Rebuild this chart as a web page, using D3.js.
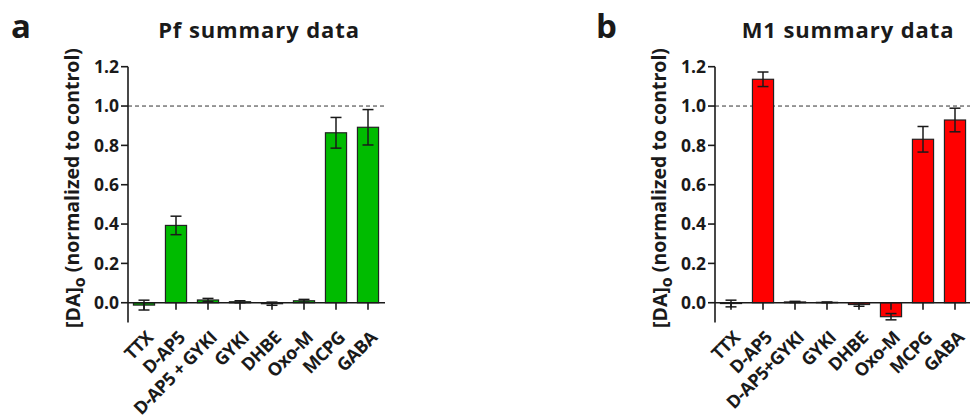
<!DOCTYPE html>
<html><head><meta charset="utf-8">
<script src="https://cdn.jsdelivr.net/npm/d3@7"></script>
<style>
body{margin:0;background:#fff}
text{font-family:"Open Sans",sans-serif;font-weight:700;fill:#1a1a1a}
</style>
</head><body><svg id="c" width="970" height="417"></svg>
<script>
const categoriesA = ["TTX","D-AP5","D-AP5 + GYKI","GYKI","DHBE","Oxo-M","MCPG","GABA"];
const categoriesB = ["TTX","D-AP5","D-AP5+GYKI","GYKI","DHBE","Oxo-M","MCPG","GABA"];
const pfMeans  = [-0.012,0.393,0.014,0.005,-0.005,0.010,0.864,0.892];
const pfErrors = [0.025,0.047,0.008,0.005,0.008,0.007,0.078,0.090];
const m1Means  = [-0.004,1.136,0.004,0.002,-0.009,-0.071,0.831,0.929];
const m1Errors = [0.017,0.037,0.003,0.002,0.009,0.016,0.065,0.060];
const yTicks = [0,0.2,0.4,0.6,0.8,1.0,1.2];
const yTickLabels = ["0.0","0.2","0.4","0.6","0.8","1.0","1.2"];

const panels = [
  {letter:"a", title:"Pf summary data", cats:categoriesA, means:pfMeans, errs:pfErrors, color:"#00bb00", x0:128, letterX:11, titleX:259},
  {letter:"b", title:"M1 summary data", cats:categoriesB, means:m1Means, errs:m1Errors, color:"#ff0000", x0:715, letterX:596, titleX:848}
];

const svg = d3.select("#c");
const y = d3.scaleLinear().domain([-0.1,1.2]).range([322.4,66.7]);
const ink = "#1a1a1a";

panels.forEach(p=>{
  const g = svg.append("g");
  const x = d3.scaleBand().domain(p.cats).range([p.x0, p.x0+256]).paddingInner(0.34).paddingOuter(0.17);
  g.append("text").attr("x",p.letterX).attr("y",38).style("font-size","33px").text(p.letter);
  g.append("text").attr("x",p.titleX).attr("y",38).attr("text-anchor","middle")
    .style("font-size","22px").style("letter-spacing","0.9px").text(p.title);
  const yl = g.append("text").attr("transform",`translate(${p.x0-48},188) rotate(-90)`).attr("text-anchor","middle").style("font-size","19.5px");
  yl.append("tspan").text("[DA]");
  yl.append("tspan").attr("dy","0.3em").style("font-size","16px").text("o");
  yl.append("tspan").attr("dy","-0.3em").text(" (normalized to control)");
  g.append("line").attr("x1",p.x0).attr("x2",p.x0+259).attr("y1",y(1)).attr("y2",y(1))
    .attr("stroke","#333").attr("stroke-width",1).attr("stroke-dasharray","4,3");
  g.selectAll("rect.bar").data(p.means).join("rect").attr("class","bar")
    .attr("x",(d,i)=>x(p.cats[i])).attr("width",x.bandwidth())
    .attr("y",d=>y(Math.max(0,d))).attr("height",d=>Math.abs(y(d)-y(0)))
    .attr("fill",p.color).attr("stroke","#222").attr("stroke-width",1.2);
  const cap = 5.5;
  p.means.forEach((m,i)=>{
    const cx = x(p.cats[i]) + x.bandwidth()/2;
    const lo = y(m - p.errs[i]), hi = y(m + p.errs[i]);
    g.append("line").attr("x1",cx).attr("x2",cx).attr("y1",lo).attr("y2",hi).attr("stroke",ink).attr("stroke-width",1.5);
    [lo,hi].forEach(v=>g.append("line").attr("x1",cx-cap).attr("x2",cx+cap).attr("y1",v).attr("y2",v).attr("stroke",ink).attr("stroke-width",1.5));
  });
  g.append("line").attr("x1",p.x0).attr("x2",p.x0).attr("y1",y(1.2)).attr("y2",y(-0.1)).attr("stroke",ink).attr("stroke-width",1.6);
  yTicks.forEach((t,i)=>{
    g.append("line").attr("x1",p.x0-7).attr("x2",p.x0).attr("y1",y(t)).attr("y2",y(t)).attr("stroke",ink).attr("stroke-width",1.6);
    g.append("text").attr("x",p.x0-9).attr("y",y(t)).attr("dy","0.36em").attr("text-anchor","end").style("font-size","17.5px").text(yTickLabels[i]);
  });
  g.append("line").attr("x1",p.x0).attr("x2",p.x0+257).attr("y1",y(0)).attr("y2",y(0)).attr("stroke",ink).attr("stroke-width",1.6);
  p.cats.forEach(c=>{
    const cx = x(c)+x.bandwidth()/2;
    g.append("line").attr("x1",cx).attr("x2",cx).attr("y1",y(0)).attr("y2",y(0)+7).attr("stroke",ink).attr("stroke-width",1.6);
    g.append("text").attr("transform",`translate(${cx+1},${y(0)+27}) rotate(-45)`)
      .attr("text-anchor","end").attr("dy","0.72em").style("font-size","18px").style("letter-spacing","-0.5px").text(c);
  });
});
</script></body></html>
